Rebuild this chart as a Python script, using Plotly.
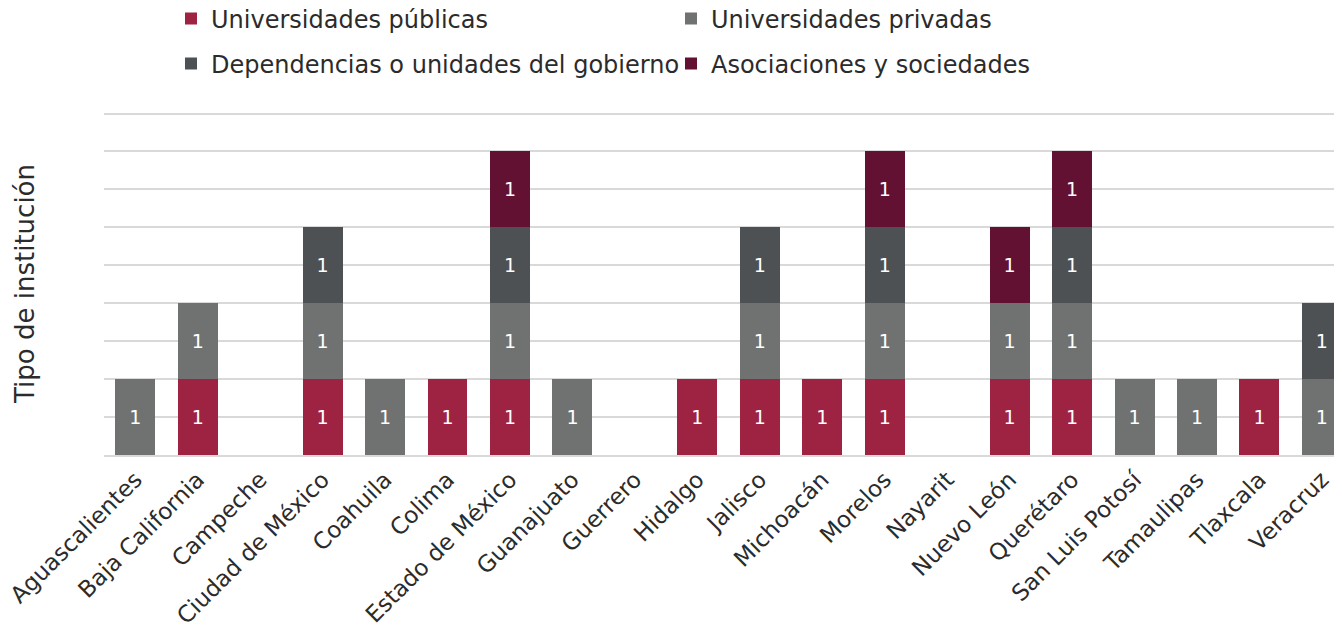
import plotly.graph_objects as go

# Estados (eje x)
estados = ['Aguascalientes', 'Baja California', 'Campeche', 'Ciudad de México',
           'Coahuila', 'Colima', 'Estado de México', 'Guanajuato', 'Guerrero',
           'Hidalgo', 'Jalisco', 'Michoacán', 'Morelos', 'Nayarit', 'Nuevo León',
           'Querétaro', 'San Luis Potosí', 'Tamaulipas', 'Tlaxcala', 'Veracruz']

# number of institutions per type and state
publicas      = [0, 1, 0, 1, 0, 1, 1, 0, 0, 1, 1, 1, 1, 0, 1, 1, 0, 0, 1, 0]
privadas      = [1, 1, 0, 1, 1, 0, 1, 1, 0, 0, 1, 0, 1, 0, 1, 1, 1, 1, 0, 1]
dependencias  = [0, 0, 0, 1, 0, 0, 1, 0, 0, 0, 1, 0, 1, 0, 0, 1, 0, 0, 0, 1]
asociaciones  = [0, 0, 0, 0, 0, 0, 1, 0, 0, 0, 0, 0, 1, 0, 1, 1, 0, 0, 0, 0]

# (name, values, colour, which legend row)
series = [
    ('Universidades públicas', publicas, '#9E2241', 'legend'),
    ('Universidades privadas', privadas, '#6F7271', 'legend'),
    ('Dependencias o unidades del gobierno', dependencias, '#4D5154', 'legend2'),
    ('Asociaciones y sociedades', asociaciones, '#621132', 'legend2'),
]

FONT = 'DejaVu Sans'
TXT = '#2b2b2b'
H = 637

fig = go.Figure()
for name, vals, color, leg in series:
    y = [v if v else None for v in vals]
    fig.add_trace(go.Bar(
        x=estados,
        y=y,
        name=name,
        legend=leg,
        marker_color=color,
        marker_line_width=0,
        text=[str(v) if v else '' for v in vals],
        textposition='inside',
        insidetextanchor='middle',
        textfont=dict(color='white', size=19, family=FONT),
    ))

# the page adds an 8px body margin, so everything is nudged up/left by 8px
legend_style = dict(
    orientation='h',
    xref='container', x=163 / 1342, xanchor='left',
    yref='container', yanchor='middle',
    entrywidth=455, entrywidthmode='pixels',
    font=dict(size=24, color=TXT, family=FONT),
    traceorder='normal',
    bgcolor='rgba(0,0,0,0)',
)

fig.update_layout(
    barmode='stack',
    bargap=0.36,
    width=1342,
    height=H,
    margin=dict(l=96, r=0, t=104, b=190),
    plot_bgcolor='white',
    paper_bgcolor='white',
    font=dict(family=FONT, color=TXT),
    showlegend=True,
    legend=dict(legend_style, y=1 - 11 / H),
    legend2=dict(legend_style, y=1 - 56 / H),
    xaxis=dict(
        range=[-0.5, 19.45],
        tickangle=-45,
        tickfont=dict(size=23, color=TXT, family=FONT),
        showgrid=False,
        showline=True,
        linecolor='#D9D9D9',
        linewidth=2,
        ticks='',
        automargin=False,
    ),
    yaxis=dict(
        range=[0, 4.52],
        dtick=0.5,
        showticklabels=False,
        showgrid=True,
        gridcolor='#D9D9D9',
        gridwidth=2,
        zeroline=False,
        automargin=False,
        title=dict(text='Tipo de institución',
                   font=dict(size=26, color=TXT, family=FONT),
                   standoff=60),
    ),
)

fig.write_html('out.html')
